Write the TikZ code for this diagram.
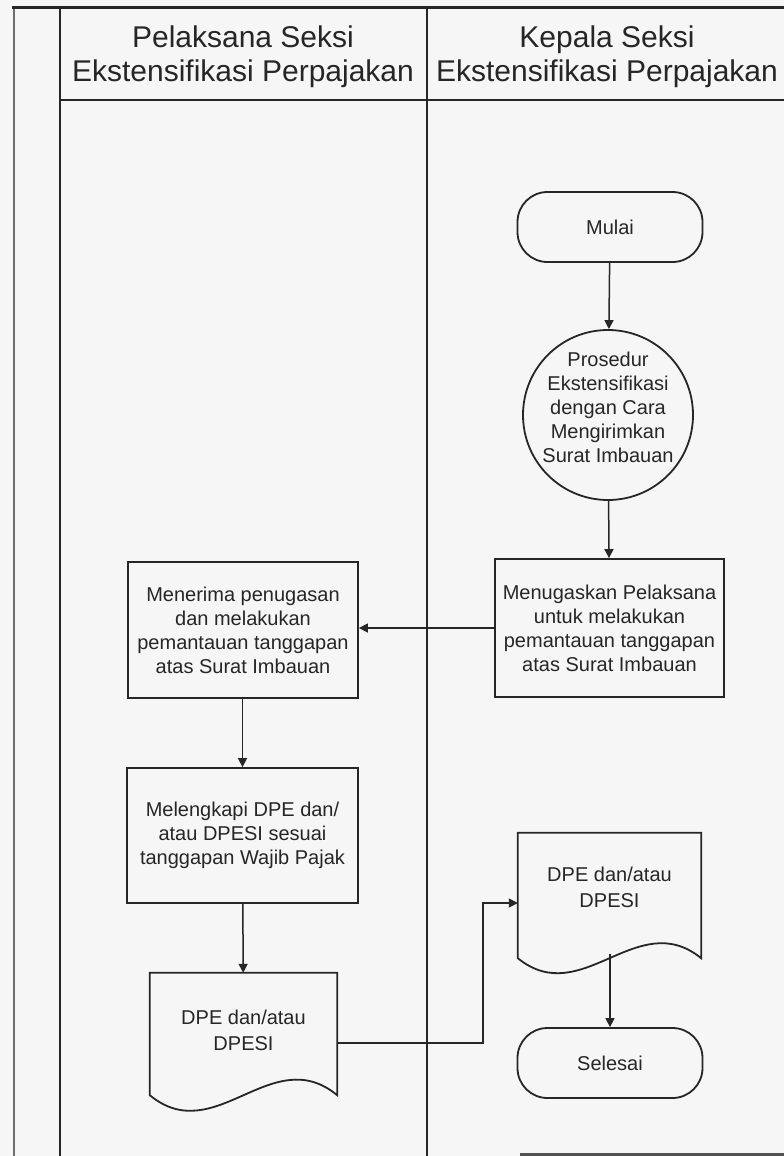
\documentclass[tikz,border=0pt]{standalone}
\usepackage{fontspec}
\setmainfont{Liberation Sans}
\usetikzlibrary{arrows.meta,calc}
\definecolor{paper}{RGB}{246,246,246}
\definecolor{ink}{RGB}{38,38,38}
\definecolor{rule}{RGB}{110,110,110}

\begin{document}
\begin{tikzpicture}[x=1pt,y=-1pt,
  lane/.style={draw=ink, line width=2pt},
  box/.style={draw=ink, line width=1.8pt, fill=paper, align=center, text=ink,
    font=\fontsize{20}{24}\selectfont, inner sep=3pt},
  process/.style={box, rectangle, minimum width=230pt, minimum height=136pt},
  terminal/.style={box, rectangle, rounded corners=30pt, minimum width=185pt, minimum height=70pt},
  connector/.style={box, circle, minimum size=170pt, inner sep=0pt},
  docnode/.style={rectangle, align=center, text=ink, font=\fontsize{20}{26}\selectfont, inner sep=0pt},
  docline/.style={draw=ink, line width=1.8pt, fill=paper},
  flow/.style={draw=ink, line width=1.5pt, -{Triangle[length=9pt,width=9pt]}},
  header/.style={font=\fontsize{30}{34}\selectfont, align=center, text=ink}
]
% page
\path[use as bounding box, fill=paper] (0,0) rectangle (784,1156);

% swimlane frame
\draw[draw=rule, line width=1.5pt] (14,8) -- (14,1156);
\draw[lane, line width=3pt] (12,8) -- (784,8);
\draw[lane] (60,8) -- (60,1156);
\draw[lane] (427,8) -- (427,1156);
\draw[lane, line width=2.5pt] (60,100) -- (784,100);
\draw[draw=ink!80, line width=3pt] (520,1154) -- (784,1154);

% lane titles
\node[header] (laneA) at (243,57) {Pelaksana Seksi\\Ekstensifikasi Perpajakan};
\node[header] (laneB) at (607,57) {Kepala Seksi\\Ekstensifikasi Perpajakan};

% Kepala Seksi lane
\node[terminal] (mulai) at (610,227) {Mulai};
\node[connector] (prosedur) at (608,415)
  {\smash{\begin{tabular}{@{}c@{}}Prosedur\\Ekstensifikasi\\dengan Cara\\Mengirimkan\\Surat Imbauan\end{tabular}}};
\node[process, minimum width=229pt, minimum height=138pt] (tugas) at (609.5,628)
  {Menugaskan Pelaksana\\untuk melakukan\\pemantauan tanggapan\\atas Surat Imbauan};

% Pelaksana lane
\node[process] (terima) at (243,630)
  {Menerima penugasan\\dan melakukan\\pemantauan tanggapan\\atas Surat Imbauan};
\node[process, minimum width=231pt, minimum height=135pt] (lengkapi) at (242.5,835.5)
  {Melengkapi DPE dan/\\atau DPESI sesuai\\tanggapan Wajib Pajak};

% documents (wavy bottom edge)
\node[docnode, minimum width=187pt, minimum height=122pt] (docL) at (243.5,1034) {};
\draw[docline] (docL.north west) -- (docL.north east) -- (docL.south east)
  .. controls ($(docL.south east)!0.35!(docL.south west)+(0,54pt)$)
  and ($(docL.south east)!0.65!(docL.south west)+(0,-54pt)$) .. (docL.south west) -- cycle;
\node[docnode] (docLtext) at (243.5,1030) {DPE dan/atau\\DPESI};

\node[docnode, minimum width=183pt, minimum height=125pt] (docR) at (609.5,895.5) {};
\draw[docline] (docR.north west) -- (docR.north east) -- (docR.south east)
  .. controls ($(docR.south east)!0.35!(docR.south west)+(0,52pt)$)
  and ($(docR.south east)!0.65!(docR.south west)+(0,-52pt)$) .. (docR.south west) -- cycle;
\node[docnode] (docRtext) at (609.5,887) {DPE dan/atau\\DPESI};

\node[terminal] (selesai) at (610,1063) {Selesai};

% flow
\coordinate (kink) at (483,1043);
\draw[flow] (mulai) -- (prosedur);
\draw[flow] (prosedur) -- (tugas);
\draw[flow] (tugas.west) -- (terima.east |- tugas.west);
\draw[flow] (terima.south -| lengkapi.north) -- (lengkapi);
\draw[flow] (lengkapi) -- (docL);
\draw[flow] ([yshift=-9pt]docL.east) -- (kink) |- ([yshift=-7.5pt]docR.west);
\draw[flow] ([yshift=4pt]docR.south -| selesai.north) -- (selesai);
\end{tikzpicture}
\end{document}
